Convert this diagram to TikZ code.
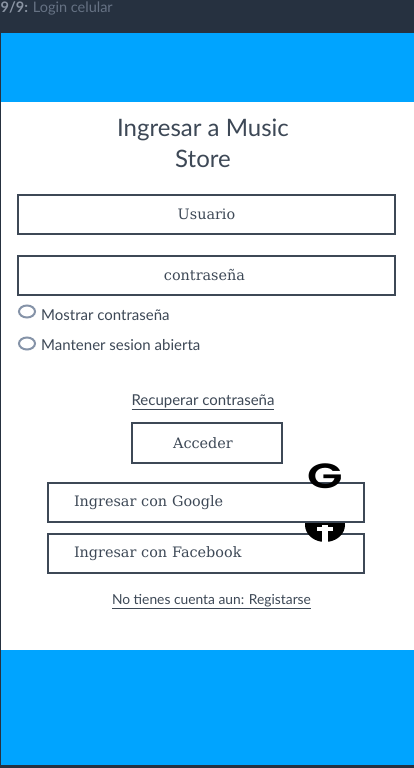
\documentclass[tikz,border=0pt]{standalone}
\usepackage{fontspec}
\setmainfont{Lato}
\newfontfamily\slabfont{DejaVu Serif}
\newfontfamily\iconfont{Poppins SemiBold}
\usetikzlibrary{shapes.geometric}
\definecolor{barcol}{HTML}{263140}
\definecolor{skycol}{HTML}{00A4FF}
\definecolor{inkcol}{HTML}{3D4856}
\definecolor{barfaint}{HTML}{667284}
\definecolor{barbold}{HTML}{8A94A3}
\definecolor{radiocol}{HTML}{8593A8}
\tikzset{
  boxbtn/.style={draw=inkcol,line width=2pt,fill=white,minimum height=39pt,inner sep=0pt,text=inkcol,font=\slabfont\fontsize{14.4}{17}\selectfont},
  linktext/.style={text=inkcol,inner sep=0pt,font=\fontsize{15}{18}\selectfont},
  radiobtn/.style={draw=radiocol,line width=2pt,ellipse,minimum width=16pt,minimum height=12pt,inner sep=0pt},
  band/.style={fill=skycol}
}
\begin{document}
\begin{tikzpicture}[x=1pt,y=-1pt]
\useasboundingbox (0,0) rectangle (414,768);

% Frame
\fill[barcol] (0,0) rectangle (414,768);
\fill[white] (1,33) rectangle (414,765);
\fill[band] (1,33) rectangle (414,102);
\fill[band] (1,650) rectangle (414,765);

% Tab title
\node[anchor=base west,inner sep=0pt,text=barfaint,font=\fontsize{14.5}{16}\selectfont] (tab) at (0.5,12.5) {\textcolor{barbold}{\textbf{9/9:}} Login celular};

% Heading
\node[text=inkcol,align=center,inner sep=0pt,font=\fontsize{24}{31}\selectfont] (head) at (203,143.5) {Ingresar a Music\\Store};

% Input fields
\node[boxbtn,minimum width=377pt] (user) at (206.5,214.5) {\raisebox{-0.5pt}{Usuario}};
\node[boxbtn,minimum width=377pt] (pass) at (206.5,275.5) {\kern-4pt \raisebox{-0.5pt}{contraseña}};

% Options
\node[radiobtn] (show) at (27,311.5) {};
\node[radiobtn] (keep) at (27,343.5) {};
\node[linktext,anchor=base west] (showlab) at (41,320) {Mostrar contraseña};
\node[linktext,anchor=base west] (keeplab) at (41,350) {Mantener sesion abierta};

% Recover and submit
\node[linktext,anchor=base] (recover) at (203,405.5) {\underline{Recuperar contraseña}};
\node[boxbtn,minimum width=150pt,minimum height=40pt] (enter) at (207,443) {\kern-8pt \raisebox{-0.5pt}{Acceder}};

% Social logins
\node[boxbtn,minimum width=316pt,text width=264pt,align=left] (fb) at (206,553.5) {Ingresar con Facebook};
\fill[black] (325,525) ellipse (20pt and 17pt);
\fill[white] (322,525) rectangle (328,543);
\fill[white] (317,527) rectangle (333,531);
\node[boxbtn,minimum width=316pt,text width=264pt,align=left] (google) at (206,502.5) {Ingresar con Google};
\node[inner sep=0pt,text=black,xscale=1.32,font=\iconfont\fontsize{35}{35}\selectfont] (glogo) at (325,476) {G};

% Register
\node[linktext,anchor=base,font=\fontsize{13.8}{16}\selectfont] (signup) at (211.5,604) {\underline{No tienes cuenta aun: Registarse}};

\end{tikzpicture}
\end{document}
